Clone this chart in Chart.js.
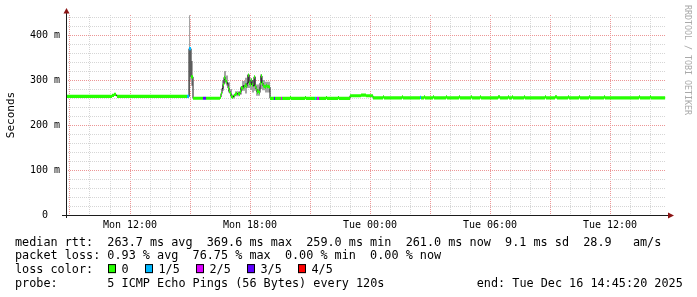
<!DOCTYPE html>
<html><head><meta charset="utf-8">
<script src="https://cdn.jsdelivr.net/npm/chart.js@4.4.1/dist/chart.umd.min.js"></script>
<style>html,body{margin:0;padding:0;background:#fff;}canvas{display:block;}</style>
</head><body>
<canvas id="c" width="697" height="297"></canvas>
<script>
// ---- data ----
// run-length samples: each value holds from its time until the next time
const sampleTimes = [
 'Mon 08:45:20','Mon 11:06','Mon 11:12','Mon 11:18','Mon 11:21','Mon 14:51','Mon 14:57','Mon 15:03','Mon 15:09','Mon 15:39','Mon 15:48',
 'Mon 16:30','Mon 16:33','Mon 16:36','Mon 16:39','Mon 16:42','Mon 16:45','Mon 16:48','Mon 16:51','Mon 16:54','Mon 16:57',
 'Mon 17:00','Mon 17:03','Mon 17:06','Mon 17:09','Mon 17:12','Mon 17:15','Mon 17:18','Mon 17:21','Mon 17:24','Mon 17:27',
 'Mon 17:30','Mon 17:33','Mon 17:36','Mon 17:39','Mon 17:42','Mon 17:45','Mon 17:48','Mon 17:51','Mon 17:54','Mon 17:57',
 'Mon 18:00','Mon 18:03','Mon 18:06','Mon 18:09','Mon 18:12','Mon 18:15','Mon 18:18','Mon 18:21','Mon 18:24','Mon 18:27',
 'Mon 18:30','Mon 18:33','Mon 18:36','Mon 18:39','Mon 18:42','Mon 18:45','Mon 18:48','Mon 18:51','Mon 18:54','Mon 18:57',
 'Mon 19:00','Mon 19:12','Mon 19:15','Mon 19:33','Mon 19:36','Mon 20:00','Mon 20:03','Mon 20:45','Mon 20:48',
 'Mon 21:15','Mon 21:18','Mon 21:21','Mon 21:27','Mon 21:48','Mon 21:51','Mon 22:24','Mon 22:27',
 'Mon 23:00','Mon 23:33','Mon 23:48','Tue 00:09','Tue 00:39','Tue 00:42','Tue 01:36','Tue 01:39',
 'Tue 02:30','Tue 02:33','Tue 02:42','Tue 02:45','Tue 03:09','Tue 03:12','Tue 03:48','Tue 03:51',
 'Tue 04:27','Tue 04:30','Tue 05:03','Tue 05:06','Tue 05:30','Tue 05:33','Tue 06:24','Tue 06:30',
 'Tue 06:54','Tue 06:57','Tue 07:06','Tue 07:09','Tue 07:42','Tue 07:45','Tue 08:45','Tue 08:48',
 'Tue 09:15','Tue 09:21','Tue 09:54','Tue 09:57','Tue 10:27','Tue 10:30','Tue 10:57','Tue 11:00',
 'Tue 11:42','Tue 11:45','Tue 13:27','Tue 13:30','Tue 14:00','Tue 14:03','Tue 14:45:20'
];
const medianMs = [
 263.5,266,268,266,263.5,263.5,369.6,307,259.5,259.5,259.5,
 262,270,281,290,306,300,296,293,282,275,
 270,263,262,263,266,268,270,269,270,268,
 274,283,281,287,285,289,286,293,311,293,
 289,300,289,287,307,286,280,273,276,272,
 293,309,293,287,286,284,288,285,286,284,
 259.3,259.3,259.3,259.3,259.3,261,259.3,261,259.3,
 259.3,259.3,259.3,259.3,261,259.3,261,259.3,
 265,266.5,265,260.5,262.5,260.5,262.5,260.5,
 261.5,260.5,262.5,260.5,262.5,260.5,262.5,260.5,
 262.5,260.5,262.5,260.5,262.5,260.5,262.5,260.5,
 262.5,260.5,262.5,260.5,262.5,260.5,262.5,260.5,
 262.5,260.5,262.5,260.5,262.5,260.5,262.5,260.5,
 262.5,260.5,262.5,260.5,262.5,260.5,260.5
];
// lost pings out of 5 for each run
const lossOfFive = [
 0,0,0,0,0,1,1,0,0,3,0,
 0,0,0,0,0,0,0,0,0,0,
 0,0,0,0,0,0,0,0,0,0,
 0,0,0,0,0,0,0,0,0,0,
 0,0,0,0,0,0,0,0,0,0,
 0,0,0,0,0,0,0,0,0,0,
 0,3,0,2,0,0,0,0,0,
 1,0,2,0,0,0,0,0,
 0,0,0,0,0,0,0,0,
 1,0,0,0,0,0,0,0,
 0,0,0,0,0,0,0,0,
 0,0,0,0,0,0,0,0,
 0,0,0,0,0,0,0,0,
 0,0,0,0,0,0,0
];
// smoke (spread of the individual pings)
const smokeTimes  = ['Mon 14:57','Mon 15:00','Mon 15:03','Mon 15:09','Mon 16:36','Mon 16:42','Mon 16:48','Mon 16:54','Mon 17:00','Mon 17:06','Mon 17:15','Mon 17:30','Mon 17:36','Mon 17:45','Mon 17:51','Mon 18:00','Mon 18:06','Mon 18:12','Mon 18:18','Mon 18:27','Mon 18:30','Mon 18:36','Mon 18:45','Mon 19:00'];
const smokeLowMs  = [262,300,287,null,276,292,288,272,265,259,264,268,276,270,282,278,272,276,265,265,280,277,272,null];
const smokeHighMs = [444,372,342,null,300,320,310,295,280,268,275,285,298,305,313,304,300,308,290,285,312,300,296,null];

const lossLabels = ['0','1/5','2/5','3/5','4/5'];
const lossColors = ['#26ff00','#00b8ff','#dd00ff','#5e00ff','#ff0000'];
const yTickValues = [0,100,200,300,400];
const yTickLabels = ['0  ','100 m','200 m','300 m','400 m'];
const xTickHours  = [12,18,24,30,36];
const xTickLabels = ['Mon 12:00','Mon 18:00','Tue 00:00','Tue 06:00','Tue 12:00'];
const yAxisTitle = 'Seconds';
const statsLine = 'median rtt:  263.7 ms avg  369.6 ms max  259.0 ms min  261.0 ms now  9.1 ms sd  28.9   am/s';
const lossLine  = 'packet loss: 0.93 % avg  76.75 % max  0.00 % min  0.00 % now';
const lossColorTitle = 'loss color:';
const probeTitle = 'probe:';
const probeText = '5 ICMP Echo Pings (56 Bytes) every 120s';
const endText = 'end: Tue Dec 16 14:45:20 2025';
const watermark = 'RRDTOOL / TOBI OETIKER';

// ---- helpers ----
function toHours(s){
  const [d, hms] = s.split(' ');
  const p = hms.split(':').map(Number);
  return (d === 'Tue' ? 24 : 0) + p[0] + p[1]/60 + (p[2]||0)/3600;
}
const T = sampleTimes.map(toHours);
const ST = smokeTimes.map(toHours);

function bandPoints(level){
  const pts = [];
  for (let i = 0; i < T.length - 1; i++) {
    if (lossOfFive[i] === level) {
      pts.push({x:T[i], y:medianMs[i]}, {x:T[i+1], y:medianMs[i]}, {x:T[i+1], y:null});
    }
  }
  return pts;
}
function smokePoints(arr){
  const pts = [];
  for (let i = 0; i < ST.length - 1; i++) {
    if (arr[i] === null) { pts.push({x:ST[i], y:null}); continue; }
    pts.push({x:ST[i], y:arr[i]}, {x:ST[i+1], y:arr[i]});
  }
  return pts;
}
const medianPoints = T.map((t,i) => ({x:t, y:medianMs[i]}));

const MONO = '"DejaVu Sans Mono", "Liberation Mono", monospace';
const MAJOR = 'rgb(236,150,150)';
const MINOR = 'rgb(214,214,214)';

const datasets = [
  {data: smokePoints(smokeLowMs), borderWidth:0, pointRadius:0, fill:false, order:6, clip:0},
  {data: smokePoints(smokeHighMs), borderWidth:0, pointRadius:0, fill:'-1', backgroundColor:'#a4a4a4', order:5, clip:0},
  // 'before': each value holds until the next sample's time
  {data: medianPoints, stepped:'before', borderColor:'#141414', borderWidth:1, pointRadius:0, fill:false, order:4, clip:0}
];
lossColors.forEach((c, L) => {
  datasets.push({data: bandPoints(L), borderColor:c, borderWidth:3.2, borderCapStyle:'butt',
    pointRadius:0, fill:false, spanGaps:false, order:1, clip:0});
});

const decor = {
  id:'decor',
  afterDraw(chart){
    const {ctx, chartArea:a} = chart;
    ctx.save();
    // axes
    ctx.strokeStyle = '#1c1c1c'; ctx.lineWidth = 1;
    ctx.beginPath(); ctx.moveTo(a.left - 4, a.bottom + 0.5); ctx.lineTo(a.right + 2, a.bottom + 0.5); ctx.stroke();
    ctx.beginPath(); ctx.moveTo(a.left + 0.5, a.bottom + 3); ctx.lineTo(a.left + 0.5, a.top - 2); ctx.stroke();
    ctx.fillStyle = '#8b1414';
    ctx.beginPath(); ctx.moveTo(a.right + 2, a.bottom - 2.5); ctx.lineTo(a.right + 8, a.bottom + 0.5); ctx.lineTo(a.right + 2, a.bottom + 3.5); ctx.closePath(); ctx.fill();
    ctx.beginPath(); ctx.moveTo(a.left - 2.5, a.top - 1.5); ctx.lineTo(a.left + 0.5, a.top - 7); ctx.lineTo(a.left + 3.5, a.top - 1.5); ctx.closePath(); ctx.fill();

    // legend
    const fs = 11.8, adv = fs * 0.60205, x0 = 15, base = 245.5, step = 13.8;
    ctx.font = fs + 'px ' + MONO; ctx.fillStyle = '#000'; ctx.textBaseline = 'alphabetic'; ctx.textAlign = 'left';
    ctx.fillText(statsLine, x0, base);
    ctx.fillText(lossLine, x0, base + step);
    ctx.fillText(lossColorTitle, x0, base + 2*step);
    let bx = 108;
    lossLabels.forEach((lab, i) => {
      const by = base + 2*step - 9;
      ctx.fillStyle = lossColors[i]; ctx.fillRect(bx, by, 8, 9);
      ctx.strokeStyle = '#000'; ctx.lineWidth = 1; ctx.strokeRect(bx + 0.5, by + 0.5, 7, 8);
      ctx.fillStyle = '#000';
      ctx.fillText(lab, bx + 13.5, base + 2*step);
      bx += 30 + ctx.measureText(lab).width;
      bx = Math.round(bx);
    });
    ctx.fillText(probeTitle, x0, base + 3*step);
    ctx.fillText(probeText, x0 + 13*adv, base + 3*step);
    ctx.fillText(endText, x0 + 65*adv, base + 3*step);

    // watermark
    ctx.translate(687.5, 5); ctx.rotate(Math.PI/2);
    ctx.font = '8.3px ' + MONO; ctx.fillStyle = '#a9a9a9'; ctx.textBaseline = 'middle';
    ctx.fillText(watermark, 0, 0);
    ctx.restore();
  }
};

new Chart(document.getElementById('c'), {
  type:'line',
  data:{datasets},
  plugins:[decor],
  options:{
    responsive:false, animation:false, devicePixelRatio:1,
    layout:{padding:{top:15, right:31, bottom:0, left:0}},
    plugins:{legend:{display:false}, tooltip:{enabled:false}},
    elements:{point:{radius:0}, line:{tension:0}},
    scales:{
      x:{
        type:'linear', min:8.8, max:38.8,
        afterBuildTicks: s => { const t=[]; for (let h=9; h<=38; h++) t.push({value:h}); s.ticks=t; },
        afterFit: s => { s.height = 82; },
        grid:{color: c => (c.tick && Math.round(c.tick.value) % 3 === 0) ? MAJOR : MINOR, lineWidth:1, drawTicks:false, borderDash:[1,1]},
        border:{display:false, dash:[1,1]},
        ticks:{autoSkip:false, maxRotation:0, padding:4, color:'#000', font:{family:MONO, size:10},
          callback: v => { const k = xTickHours.indexOf(v); return k >= 0 ? xTickLabels[k] : ''; }}
      },
      y:{
        type:'linear', min:0, max:2000/4.5,
        afterBuildTicks: s => { const t=[]; for (let v=0; v<=440; v+=20) t.push({value:v}); s.ticks=t; },
        afterFit: s => { s.width = 66; },
        grid:{color: c => (c.tick && Math.round(c.tick.value) % 100 === 0) ? MAJOR : MINOR, lineWidth:1, drawTicks:false, borderDash:[1,1]},
        border:{display:false, dash:[1,1]},
        title:{display:true, text:yAxisTitle, color:'#000', font:{family:MONO, size:11}, padding:{top:5, bottom:0}},
        ticks:{autoSkip:false, padding:6, color:'#000', font:{family:MONO, size:10},
          callback: v => { const k = yTickValues.indexOf(v); return k >= 0 ? yTickLabels[k] : ''; }}
      }
    }
  }
});
</script>
</body></html>
